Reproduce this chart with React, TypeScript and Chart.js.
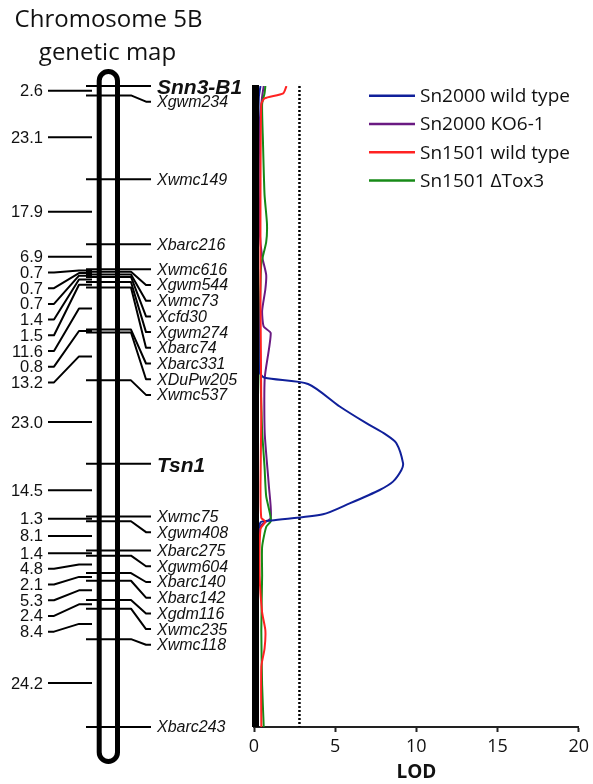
import React, { useEffect, useRef } from "react";
import { Chart, registerables } from "chart.js";
Chart.register(...registerables);

// ---------- Genetic map (chromosome 5B) ----------
const markerNames = [
  "Snn3-B1", "Xgwm234", "Xwmc149", "Xbarc216", "Xwmc616", "Xgwm544", "Xwmc73", "Xcfd30",
  "Xgwm274", "Xbarc74", "Xbarc331", "XDuPw205", "Xwmc537", "Tsn1", "Xwmc75", "Xgwm408",
  "Xbarc275", "Xgwm604", "Xbarc140", "Xbarc142", "Xgdm116", "Xwmc235", "Xwmc118", "Xbarc243",
];
const geneMarkers = ["Snn3-B1", "Tsn1"];
const intervalCM = [
  2.6, 23.1, 17.9, 6.9, 0.7, 0.7, 0.7, 1.4, 1.5, 11.6, 0.8, 13.2, 23.0, 14.5, 1.3, 8.1, 1.4,
  4.8, 2.1, 5.3, 2.4, 8.4, 24.2,
];
const intervalLabels = [
  "2.6", "23.1", "17.9", "6.9", "0.7", "0.7", "0.7", "1.4", "1.5", "11.6", "0.8", "13.2", "23.0",
  "14.5", "1.3", "8.1", "1.4", "4.8", "2.1", "5.3", "2.4", "8.4", "24.2",
];
const titleLines = ["Chromosome 5B", "genetic map"];

// ---------- LOD axis ----------
const lodTicks = [0, 5, 10, 15, 20];
const lodThreshold = 2.8;
const lodTitle = "LOD";

// ---------- LOD profiles (position cM, LOD) ----------
const seriesLabels = ["Sn2000 wild type", "Sn2000 KO6-1", "Sn1501 wild type", "Sn1501 \u0394Tox3"];
const seriesColors = ["#10209a", "#6a1a82", "#ff2222", "#178a17"];

const sn2000WtPos = [0, 3, 15, 30, 45, 55, 67, 75, 79, 80.4, 82.1, 88.3, 92.9, 96.1, 98.4, 103.9, 105.8, 109.0, 111.3, 115.0, 118.0, 119.7, 120.2, 125, 140, 160, 176.6];
const sn2000WtLod = [0.4, 0.3, 0.25, 0.2, 0.2, 0.25, 0.3, 0.3, 0.35, 0.66, 3.33, 5.28, 6.92, 8.15, 8.77, 9.18, 9.08, 8.56, 7.74, 5.89, 4.25, 1.07, 0.4, 0.25, 0.2, 0.2, 0.2];

const sn2000KoPos = [0, 3, 10, 25, 40, 47, 52, 56, 62, 66.3, 68.1, 80.5, 95.6, 110.4, 119, 121, 125, 140, 160, 176.6];
const sn2000KoLod = [0.6, 0.5, 0.35, 0.3, 0.35, 0.5, 0.75, 0.7, 0.5, 0.6, 1.03, 0.66, 0.66, 0.92, 1.03, 0.45, 0.3, 0.2, 0.15, 0.15];

const sn1501WtPos = [0, 2, 3.4, 5, 30, 60, 90, 110, 119, 120, 122, 135, 145, 150, 155, 160, 176.6];
const sn1501WtLod = [2.0, 1.8, 0.65, 0.45, 0.4, 0.4, 0.45, 0.4, 0.45, 0.7, 0.4, 0.35, 0.5, 0.7, 0.65, 0.45, 0.45];

const sn1501ToxPos = [0, 2, 5, 15, 30, 38, 43, 49, 55, 65, 80, 95, 105, 113, 119.7, 121.5, 127, 135, 150, 165, 176.6];
const sn1501ToxLod = [0.7, 0.65, 0.5, 0.55, 0.65, 0.8, 0.75, 0.45, 0.4, 0.35, 0.4, 0.5, 0.65, 0.75, 1.05, 0.75, 0.5, 0.5, 0.45, 0.5, 0.6];

// ---------- derived ----------
const markerCM: number[] = [0];
intervalCM.forEach((d) => markerCM.push(Math.round((markerCM[markerCM.length - 1] + d) * 10) / 10));
const mapLength = markerCM[markerCM.length - 1];

function spread(ys: number[], gap: number) {
  const out: number[] = [];
  let prev = -Infinity;
  for (const v of ys) {
    const p = Math.max(v, prev + gap);
    out.push(p);
    prev = p;
  }
  return out;
}

const toPts = (pos: number[], lod: number[]) => pos.map((p, i) => ({ x: lod[i], y: p }));

const mapPlugin = {
  id: "geneticMap",
  afterDatasetsDraw(chart: any) {
    const ctx = chart.ctx;
    const xs = chart.scales.x;
    const a = chart.chartArea;
    ctx.save();
    ctx.fillStyle = "#000";
    const x0 = xs.getPixelForValue(0);
    ctx.fillRect(x0 - 2, a.top - 1, 7, a.bottom - a.top + 1);
    ctx.restore();
  },
  afterDraw(chart: any) {
    const ctx = chart.ctx;
    const ys = chart.scales.y;
    const my = markerCM.map((c) => ys.getPixelForValue(c));
    const n = my.length;
    ctx.save();
    // title
    ctx.fillStyle = "#111";
    ctx.font = '24px "Open Sans"';
    ctx.textAlign = "center";
    ctx.textBaseline = "alphabetic";
    ctx.fillText(titleLines[0], 108.5, 27);
    ctx.fillText(titleLines[1], 107.5, 60);

    // chromosome outline
    ctx.strokeStyle = "#000";
    ctx.lineWidth = 5;
    ctx.beginPath();
    const top = my[0] - 14.5;
    const bot = my[n - 1] + 34.5;
    (ctx as any).roundRect(99.2, top, 18.3, bot - top, 9.15);
    ctx.stroke();

    // right side: marker ticks + labels
    ctx.lineWidth = 2;
    ctx.lineJoin = "round";
    const ry = spread(my, 15.7);
    for (let i = 0; i < n; i++) {
      const m = my[i];
      const l = ry[i];
      ctx.beginPath();
      ctx.moveTo(86, m);
      if (Math.abs(l - m) < 1.5) {
        ctx.lineTo(151, m);
      } else {
        ctx.lineTo(131, m);
        ctx.lineTo(146, l);
        ctx.lineTo(151, l);
      }
      ctx.stroke();
      const isGene = geneMarkers.includes(markerNames[i]);
      ctx.font = isGene ? 'italic bold 21px "Liberation Sans"' : 'italic 16px "Liberation Sans"';
      ctx.textAlign = "left";
      ctx.textBaseline = "middle";
      ctx.fillStyle = "#111";
      ctx.fillText(markerNames[i], 157, l + (isGene ? 2 : 1));
    }

    // left side: interval distances
    const mids = intervalCM.map((_, j) => (my[j] + my[j + 1]) / 2);
    const ly = spread(mids, 15.7);
    ctx.font = '16.5px "Liberation Sans"';
    ctx.textAlign = "right";
    for (let j = 0; j < mids.length; j++) {
      const m = mids[j];
      const l = ly[j];
      ctx.beginPath();
      ctx.moveTo(48, l);
      if (Math.abs(l - m) < 1.5) {
        ctx.lineTo(92, m);
      } else {
        ctx.lineTo(54, l);
        ctx.lineTo(79, m);
        ctx.lineTo(92, m);
      }
      ctx.stroke();
      ctx.fillText(intervalLabels[j], 43, l + 1);
    }

    // legend
    ctx.font = '19px "Open Sans"';
    ctx.textAlign = "left";
    ctx.textBaseline = "middle";
    for (let k = 0; k < seriesLabels.length; k++) {
      const yy = 95.7 + k * 28.3;
      ctx.strokeStyle = seriesColors[k];
      ctx.lineWidth = 2.5;
      ctx.beginPath();
      ctx.moveTo(369, yy);
      ctx.lineTo(415, yy);
      ctx.stroke();
      ctx.fillStyle = "#111";
      ctx.fillText(seriesLabels[k], 420, yy + 1);
    }
    ctx.restore();
  },
};

export default function App() {
  const ref = useRef<HTMLCanvasElement | null>(null);
  useEffect(() => {
    let chart: Chart | null = null;
    let cancelled = false;
    const make = () => {
      if (cancelled || !ref.current) return;
      const line = (i: number, pos: number[], lod: number[], order: number, tension: number) => ({
        label: seriesLabels[i],
        data: toPts(pos, lod),
        borderColor: seriesColors[i],
        backgroundColor: seriesColors[i],
        borderWidth: 2,
        pointRadius: 0,
        tension,
        fill: false,
        order,
      });
      chart = new Chart(ref.current, {
        type: "line",
        data: {
          datasets: [
            line(0, sn2000WtPos, sn2000WtLod, 2, 0.25),
            line(1, sn2000KoPos, sn2000KoLod, 4, 0.2),
            line(2, sn1501WtPos, sn1501WtLod, 1, 0.2),
            line(3, sn1501ToxPos, sn1501ToxLod, 3, 0.2),
            {
              label: "threshold",
              data: [
                { x: lodThreshold, y: 0 },
                { x: lodThreshold, y: mapLength },
              ],
              borderColor: "#000",
              borderWidth: 2.5,
              borderDash: [2, 2],
              pointRadius: 0,
              tension: 0,
              order: 5,
            } as any,
          ],
        },
        options: {
          animation: false,
          responsive: false,
          indexAxis: "y",
          layout: { padding: { top: 86, left: 254, right: 14, bottom: 0 } },
          plugins: { legend: { display: false }, tooltip: { enabled: false } },
          scales: {
            x: {
              type: "linear",
              position: "bottom",
              min: lodTicks[0],
              max: lodTicks[lodTicks.length - 1],
              afterBuildTicks: (s: any) => {
                s.ticks = lodTicks.map((v) => ({ value: v }));
              },
              ticks: {
                color: "#111",
                font: { family: "Open Sans", size: 18 },
                padding: 4,
                maxRotation: 0,
              },
              grid: {
                display: true,
                drawOnChartArea: false,
                tickLength: 5,
                tickWidth: 2,
                tickColor: "#222",
              },
              border: { display: true, color: "#222", width: 2 },
              title: {
                display: true,
                text: lodTitle,
                color: "#111",
                font: { family: "Open Sans", size: 19, weight: "bold" },
                padding: { top: 0, bottom: 0 },
              },
              afterFit: (s: any) => {
                s.height = 57;
              },
            },
            y: {
              type: "linear",
              min: 0,
              max: mapLength,
              reverse: true,
              ticks: { display: false },
              grid: { display: false },
              border: { display: false },
              afterFit: (s: any) => {
                s.width = 0;
              },
            },
          },
        } as any,
        plugins: [mapPlugin],
      });
    };
    const fonts = (document as any).fonts;
    if (fonts && fonts.load) {
      Promise.all([
        fonts.load('24px "Open Sans"'),
        fonts.load('bold 19px "Open Sans"'),
        fonts.load('16px "Liberation Sans"'),
        fonts.load('italic 16px "Liberation Sans"'),
        fonts.load('italic bold 21px "Liberation Sans"'),
      ])
        .catch(() => null)
        .then(make);
    } else make();
    return () => {
      cancelled = true;
      if (chart) chart.destroy();
    };
  }, []);
  return (
    <div style={{ position: "absolute", left: 0, top: 0, width: 593, height: 784, background: "#fff" }}>
      <canvas ref={ref} width={593} height={784} style={{ display: "block" }} />
    </div>
  );
}
